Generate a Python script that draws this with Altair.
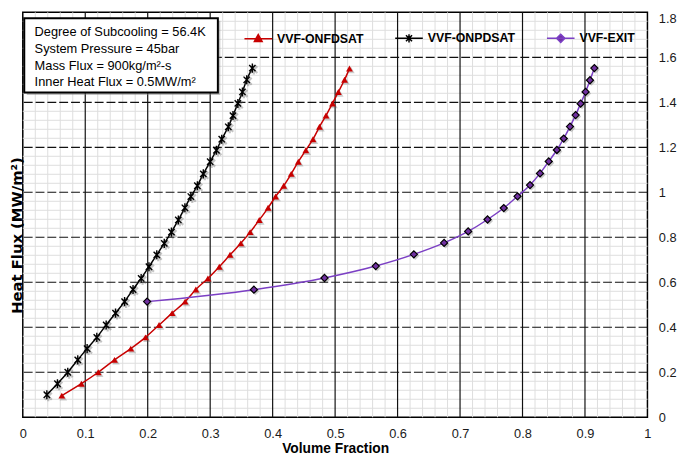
import altair as alt
import pandas as pd

# ---------------- data ----------------
series_names = ["VVF-ONFDSAT", "VVF-ONPDSAT", "VVF-EXIT"]

onfdsat_flux = [0.096, 0.149, 0.200, 0.255, 0.305, 0.355, 0.410, 0.463, 0.514, 0.568,
                0.617, 0.669, 0.722, 0.773, 0.823, 0.877, 0.931, 0.981, 1.029, 1.082,
                1.136, 1.187, 1.236, 1.291, 1.341, 1.395, 1.446, 1.500, 1.550]
onfdsat_vf = [0.0625, 0.0938, 0.1208, 0.1469, 0.1729, 0.1964, 0.2182, 0.2391, 0.2599, 0.2771,
              0.2964, 0.3146, 0.3318, 0.3490, 0.3640, 0.3786, 0.3927, 0.4047, 0.4177, 0.4297,
              0.4411, 0.4531, 0.4646, 0.4750, 0.4854, 0.4958, 0.5052, 0.5151, 0.5230]

onpdsat_flux = [0.100, 0.149, 0.200, 0.255, 0.305, 0.355, 0.410, 0.463, 0.514, 0.568,
                0.617, 0.669, 0.722, 0.773, 0.823, 0.877, 0.931, 0.981, 1.029, 1.082,
                1.136, 1.187, 1.236, 1.291, 1.341, 1.395, 1.446, 1.500, 1.552]
onpdsat_vf = [0.0385, 0.0555, 0.0720, 0.0880, 0.1030, 0.1185, 0.1335, 0.1485, 0.1630, 0.1765,
              0.1895, 0.2020, 0.2145, 0.2265, 0.2380, 0.2490, 0.2595, 0.2690, 0.2795, 0.2890,
              0.3000, 0.3100, 0.3185, 0.3290, 0.3365, 0.3443, 0.3516, 0.3585, 0.3675]

exit_flux = [0.514, 0.567, 0.619, 0.672, 0.724, 0.775, 0.826, 0.879, 0.930, 0.982,
             1.032, 1.084, 1.137, 1.188, 1.239, 1.292, 1.343, 1.394, 1.446, 1.498, 1.552]
exit_vf = [0.199, 0.370, 0.483, 0.565, 0.626, 0.6745, 0.713, 0.744, 0.770, 0.792,
           0.812, 0.828, 0.842, 0.855, 0.866, 0.876, 0.885, 0.893, 0.901, 0.908, 0.915]

x_tick_values = [0, 0.1, 0.2, 0.3, 0.4, 0.5, 0.6, 0.7, 0.8, 0.9, 1]
y_tick_values = [0, 0.2, 0.4, 0.6, 0.8, 1, 1.2, 1.4, 1.6, 1.8]
x_major_grid = [0.1, 0.2, 0.3, 0.4, 0.5, 0.6, 0.7, 0.8, 0.9]
y_major_grid = [0.2, 0.4, 0.6, 0.8, 1.0, 1.2, 1.4, 1.6]
x_minor_grid = [round(i * 0.02, 2) for i in range(1, 50) if i % 5]
y_minor_grid = [round(i * 0.04, 2) for i in range(1, 45) if i % 5]

info_lines = ["Degree of Subcooling = 56.4K",
              "System Pressure = 45bar",
              "Mass Flux = 900kg/m\u00b2-s",
              "Inner Heat Flux = 0.5MW/m\u00b2"]

x_title = "Volume Fraction"
y_title = "Heat Flux (MW/m\u00b2)"

# ---------------- build table ----------------
rows = []
for name, fl, vf in [(series_names[0], onfdsat_flux, onfdsat_vf),
                     (series_names[1], onpdsat_flux, onpdsat_vf),
                     (series_names[2], exit_flux, exit_vf)]:
    for i, (f, v) in enumerate(zip(fl, vf)):
        rows.append({"series": name, "flux": f, "vf": v, "order": i})
df = pd.DataFrame(rows)

# ---------------- styles ----------------
FONT = "Liberation Sans"
NARROW = "Liberation Sans Narrow, Liberation Sans"
RED = "#c80000"
PURPLE_LINE = "#7b3fc4"
PURPLE_FILL = "#7030a0"
W, H = 634, 411

xs = alt.Scale(domain=[0, 1], nice=False, zero=False)
ys = alt.Scale(domain=[0, 1.8], nice=False, zero=False)

x_axis = alt.Axis(orient="bottom", values=x_tick_values, format="~g", title=x_title,
                  grid=False, domain=False, ticks=False, labelFlush=False, labelPadding=11,
                  labelFont=NARROW, labelFontSize=13, labelColor="#1a1a1a",
                  titleFont=FONT, titleFontSize=14, titleFontWeight="bold",
                  titleColor="black", titlePadding=1)
y_axis_left = alt.Axis(orient="left", title=y_title, labels=False, ticks=False,
                       domain=False, grid=False, titleFont="DejaVu Sans",
                       titleFontSize=15, titleFontWeight="bold", titleColor="black",
                       titlePadding=-2, titleY=226)
y_axis_right = alt.Axis(orient="right", values=y_tick_values, format="~g", title=None,
                        grid=False, domain=False, ticks=False, labelPadding=11,
                        labelAlign="left", labelFont=NARROW, labelFontSize=13,
                        labelColor="#1a1a1a",
                        labelBaseline={"condition": {"test": "datum.value >= 1.79", "value": "top"},
                                       "value": "middle"})

# ---------------- grid ----------------
vminor = alt.Chart(pd.DataFrame({"x": x_minor_grid})).mark_rule(
    color="#dddddd", strokeWidth=1).encode(x=alt.X("x:Q", scale=xs, axis=x_axis))
hminor = alt.Chart(pd.DataFrame({"y": y_minor_grid})).mark_rule(
    color="#dddddd", strokeWidth=1).encode(y=alt.Y("y:Q", scale=ys, axis=y_axis_left))
vmajor = alt.Chart(pd.DataFrame({"x": x_major_grid})).mark_rule(
    color="#111111", strokeWidth=1.2).encode(x=alt.X("x:Q", scale=xs, axis=None))
hmajor = alt.Chart(pd.DataFrame({"y": y_major_grid})).mark_rule(
    color="#111111", strokeWidth=1.2, strokeDash=[9, 3]).encode(
    y=alt.Y("y:Q", scale=ys, axis=y_axis_right))

# ---------------- series ----------------
base = alt.Chart(df)
enc = dict(x=alt.X("vf:Q", scale=xs, axis=None),
           y=alt.Y("flux:Q", scale=ys, axis=None),
           order="order:Q")

line_colors = [RED, "#000000", PURPLE_LINE]
lines = [base.transform_filter(alt.datum.series == n).mark_line(
            color=c, strokeWidth=1.5, interpolate="monotone").encode(**enc)
         for n, c in zip(series_names, line_colors)]

STAR = "M-0.7,-0.7L0.7,0.7M-0.7,0.7L0.7,-0.7M0,-1L0,1"
pt_enc = dict(x=alt.X("vf:Q", scale=xs, axis=None), y=alt.Y("flux:Q", scale=ys, axis=None))

shadows = [
    base.transform_filter(alt.datum.series == series_names[0]).mark_point(
        shape="triangle-up", filled=True, color="#555", opacity=0.3, size=58,
        xOffset=1.5, yOffset=1.5).encode(**pt_enc),
    base.transform_filter(alt.datum.series == series_names[1]).mark_point(
        shape=STAR, filled=False, color="#555", opacity=0.35, size=100, strokeWidth=2.2,
        xOffset=1.5, yOffset=1.5).encode(**pt_enc),
    base.transform_filter(alt.datum.series == series_names[2]).mark_point(
        shape="diamond", filled=True, color="#555", opacity=0.3, size=68,
        xOffset=1.5, yOffset=1.5).encode(**pt_enc),
]
points = [
    base.transform_filter(alt.datum.series == series_names[0]).mark_point(
        shape="triangle-up", filled=True, color=RED, opacity=1, size=48).encode(**pt_enc),
    base.transform_filter(alt.datum.series == series_names[1]).mark_point(
        shape=STAR, filled=False, color="#000000", opacity=1, size=85,
        strokeWidth=1.4).encode(**pt_enc),
    base.transform_filter(alt.datum.series == series_names[2]).mark_point(
        shape="diamond", filled=True, fill=PURPLE_FILL, stroke="#000000", strokeWidth=1.2,
        opacity=1, size=52).encode(**pt_enc),
]

# ---------------- legend (line + marker symbols) ----------------
legend_paths = ["M-1,0L1,0M0,-0.3L0.28,0.2L-0.28,0.2Z",
                "M-1,0L1,0M-0.22,-0.22L0.22,0.22M-0.22,0.22L0.22,-0.22M0,-0.3L0,0.3",
                "M-1,0L1,0M0,-0.3L0.3,0L0,0.3L-0.3,0Z"]
legend_fills = [RED, "transparent", PURPLE_FILL]
legend_strokes = [RED, "#000000", PURPLE_LINE]
leg = alt.Legend(orient="none", legendX=224, legendY=11, direction="horizontal",
                 title=None, symbolSize=784, symbolStrokeWidth=1.5, symbolOpacity=1,
                 labelFont=FONT, labelFontSize=12.5, labelFontWeight="bold",
                 labelColor="black", labelOffset=4, columnPadding=29, padding=0,
                 labelLimit=0)
legend_layer = base.transform_filter("false").mark_point(
    size=784, strokeWidth=1.5, opacity=1).encode(
    x=alt.X("vf:Q", scale=xs, axis=None),
    y=alt.Y("flux:Q", scale=ys, axis=None),
    shape=alt.Shape("series:N", scale=alt.Scale(domain=series_names, range=legend_paths), legend=leg),
    fill=alt.Fill("series:N", scale=alt.Scale(domain=series_names, range=legend_fills), legend=leg),
    stroke=alt.Stroke("series:N", scale=alt.Scale(domain=series_names, range=legend_strokes), legend=leg),
)

# ---------------- annotation box ----------------
one = pd.DataFrame({"k": [0]})
box_shadow = alt.Chart(one).mark_rect(fill="#777777", opacity=0.45).encode(
    x=alt.value(4), x2=alt.value(200.5), y=alt.value(8.5), y2=alt.value(84))
box = alt.Chart(one).mark_rect(fill="white", stroke="black", strokeWidth=2).encode(
    x=alt.value(1.5), x2=alt.value(198), y=alt.value(6), y2=alt.value(81.5))
box_text = alt.Chart(one).mark_text(
    align="left", baseline="top", font=FONT, fontSize=13, lineHeight=16.8,
    color="black").encode(x=alt.value(12), y=alt.value(14.5), text=alt.value(info_lines))

chart = alt.layer(
    vminor, hminor, vmajor, hmajor, *lines, *shadows, *points, legend_layer,
    box_shadow, box, box_text
).resolve_axis(x="independent", y="independent").properties(
    width=W, height=H, padding={"left": 2, "top": 0, "right": 0, "bottom": 0}
).configure_view(stroke="black", strokeWidth=1.5)

chart.save("out.html", embed_options={"renderer": "svg", "actions": False})
